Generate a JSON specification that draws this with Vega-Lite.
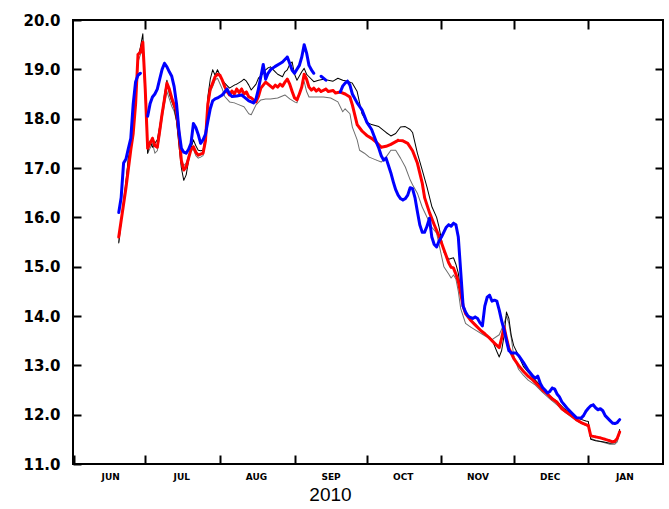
{
  "$schema": "https://vega.github.io/schema/vega-lite/v6.json",
  "width": 590,
  "height": 444,
  "autosize": "none",
  "padding": {"left": 73, "top": 20, "right": 6, "bottom": 45},
  "background": "white",
  "config": {"view": {"stroke": "black", "strokeWidth": 2}},
  "datasets": {
    "all": [
      {"s":"gray","d":"2010-06-20","v":15.5},{"s":"gray","d":"2010-06-21","v":15.95},{"s":"gray","d":"2010-06-22","v":16.35},{"s":"gray","d":"2010-06-23","v":16.75},{"s":"gray","d":"2010-06-24","v":17.2},{"s":"gray","d":"2010-06-25","v":17.35},{"s":"gray","d":"2010-06-26","v":17.8},{"s":"gray","d":"2010-06-27","v":18.3},{"s":"gray","d":"2010-06-28","v":19.15},{"s":"gray","d":"2010-06-29","v":19.3},{"s":"gray","d":"2010-06-30","v":19.4},
      {"s":"gray","d":"2010-07-01","v":18.4},{"s":"gray","d":"2010-07-02","v":17.3},{"s":"gray","d":"2010-07-03","v":17.4},{"s":"gray","d":"2010-07-04","v":17.5},{"s":"gray","d":"2010-07-05","v":17.3},{"s":"gray","d":"2010-07-06","v":17.35},{"s":"gray","d":"2010-07-07","v":17.65},{"s":"gray","d":"2010-07-08","v":18.0},{"s":"gray","d":"2010-07-09","v":18.3},{"s":"gray","d":"2010-07-10","v":18.55},{"s":"gray","d":"2010-07-11","v":18.4},{"s":"gray","d":"2010-07-12","v":18.25},{"s":"gray","d":"2010-07-13","v":18.15},{"s":"gray","d":"2010-07-14","v":17.95},{"s":"gray","d":"2010-07-15","v":17.55},{"s":"gray","d":"2010-07-16","v":17.15},{"s":"gray","d":"2010-07-17","v":17.05},{"s":"gray","d":"2010-07-18","v":17.1},{"s":"gray","d":"2010-07-19","v":17.25},{"s":"gray","d":"2010-07-20","v":17.35},{"s":"gray","d":"2010-07-21","v":17.38},{"s":"gray","d":"2010-07-22","v":17.25},{"s":"gray","d":"2010-07-23","v":17.2},{"s":"gray","d":"2010-07-24","v":17.22},{"s":"gray","d":"2010-07-25","v":17.25},{"s":"gray","d":"2010-07-26","v":17.5},{"s":"gray","d":"2010-07-27","v":18.2},{"s":"gray","d":"2010-07-28","v":18.55},{"s":"gray","d":"2010-07-29","v":18.65},{"s":"gray","d":"2010-07-30","v":18.78},{"s":"gray","d":"2010-07-31","v":18.82},
      {"s":"gray","d":"2010-08-02","v":18.6},{"s":"gray","d":"2010-08-03","v":18.45},{"s":"gray","d":"2010-08-05","v":18.34},{"s":"gray","d":"2010-08-07","v":18.32},{"s":"gray","d":"2010-08-09","v":18.28},{"s":"gray","d":"2010-08-11","v":18.24},{"s":"gray","d":"2010-08-13","v":18.1},{"s":"gray","d":"2010-08-14","v":18.08},{"s":"gray","d":"2010-08-16","v":18.28},{"s":"gray","d":"2010-08-18","v":18.38},{"s":"gray","d":"2010-08-20","v":18.4},{"s":"gray","d":"2010-08-22","v":18.4},{"s":"gray","d":"2010-08-25","v":18.42},{"s":"gray","d":"2010-08-28","v":18.48},{"s":"gray","d":"2010-08-30","v":18.4},
      {"s":"gray","d":"2010-09-01","v":18.34},{"s":"gray","d":"2010-09-02","v":18.32},{"s":"gray","d":"2010-09-04","v":18.68},{"s":"gray","d":"2010-09-05","v":18.75},{"s":"gray","d":"2010-09-06","v":18.55},{"s":"gray","d":"2010-09-07","v":18.44},{"s":"gray","d":"2010-09-10","v":18.44},{"s":"gray","d":"2010-09-13","v":18.44},{"s":"gray","d":"2010-09-16","v":18.42},{"s":"gray","d":"2010-09-19","v":18.34},{"s":"gray","d":"2010-09-21","v":18.14},{"s":"gray","d":"2010-09-22","v":18.2},{"s":"gray","d":"2010-09-24","v":18.1},{"s":"gray","d":"2010-09-25","v":17.83},{"s":"gray","d":"2010-09-27","v":17.57},{"s":"gray","d":"2010-09-28","v":17.36},{"s":"gray","d":"2010-09-30","v":17.3},
      {"s":"gray","d":"2010-10-02","v":17.22},{"s":"gray","d":"2010-10-05","v":17.16},{"s":"gray","d":"2010-10-07","v":17.12},{"s":"gray","d":"2010-10-09","v":17.22},{"s":"gray","d":"2010-10-11","v":17.36},{"s":"gray","d":"2010-10-13","v":17.36},{"s":"gray","d":"2010-10-15","v":17.2},{"s":"gray","d":"2010-10-17","v":17.02},{"s":"gray","d":"2010-10-19","v":16.76},{"s":"gray","d":"2010-10-20","v":16.66},{"s":"gray","d":"2010-10-22","v":16.49},{"s":"gray","d":"2010-10-24","v":16.21},{"s":"gray","d":"2010-10-26","v":16.0},{"s":"gray","d":"2010-10-28","v":15.8},{"s":"gray","d":"2010-10-30","v":15.68},{"s":"gray","d":"2010-10-31","v":15.45},
      {"s":"gray","d":"2010-11-02","v":15.0},{"s":"gray","d":"2010-11-04","v":14.85},{"s":"gray","d":"2010-11-05","v":14.77},{"s":"gray","d":"2010-11-06","v":14.83},{"s":"gray","d":"2010-11-07","v":14.75},{"s":"gray","d":"2010-11-08","v":14.5},{"s":"gray","d":"2010-11-09","v":14.15},{"s":"gray","d":"2010-11-10","v":14.0},{"s":"gray","d":"2010-11-11","v":13.85},{"s":"gray","d":"2010-11-13","v":13.78},{"s":"gray","d":"2010-11-15","v":13.72},{"s":"gray","d":"2010-11-19","v":13.6},{"s":"gray","d":"2010-11-22","v":13.52},{"s":"gray","d":"2010-11-25","v":13.62},{"s":"gray","d":"2010-11-27","v":13.85},{"s":"gray","d":"2010-11-28","v":14.0},{"s":"gray","d":"2010-11-29","v":13.85},{"s":"gray","d":"2010-11-30","v":13.55},
      {"s":"gray","d":"2010-12-01","v":13.2},{"s":"gray","d":"2010-12-03","v":12.92},{"s":"gray","d":"2010-12-05","v":12.8},{"s":"gray","d":"2010-12-07","v":12.7},{"s":"gray","d":"2010-12-10","v":12.6},{"s":"gray","d":"2010-12-13","v":12.45},{"s":"gray","d":"2010-12-16","v":12.32},{"s":"gray","d":"2010-12-19","v":12.2},{"s":"gray","d":"2010-12-22","v":12.06},{"s":"gray","d":"2010-12-25","v":11.95},{"s":"gray","d":"2010-12-28","v":11.85},{"s":"gray","d":"2010-12-31","v":11.78},
      {"s":"gray","d":"2011-01-01","v":11.76},{"s":"gray","d":"2011-01-02","v":11.52},{"s":"gray","d":"2011-01-04","v":11.48},{"s":"gray","d":"2011-01-07","v":11.44},{"s":"gray","d":"2011-01-10","v":11.4},{"s":"gray","d":"2011-01-12","v":11.4},{"s":"gray","d":"2011-01-13","v":11.45},{"s":"gray","d":"2011-01-14","v":11.62},

      {"s":"black","d":"2010-06-20","v":15.48},{"s":"black","d":"2010-06-21","v":15.9},{"s":"black","d":"2010-06-22","v":16.3},{"s":"black","d":"2010-06-23","v":16.7},{"s":"black","d":"2010-06-24","v":17.2},{"s":"black","d":"2010-06-25","v":17.45},{"s":"black","d":"2010-06-26","v":17.9},{"s":"black","d":"2010-06-27","v":18.4},{"s":"black","d":"2010-06-28","v":19.25},{"s":"black","d":"2010-06-29","v":19.45},{"s":"black","d":"2010-06-30","v":19.72},
      {"s":"black","d":"2010-07-01","v":18.5},{"s":"black","d":"2010-07-02","v":17.3},{"s":"black","d":"2010-07-03","v":17.55},{"s":"black","d":"2010-07-04","v":17.42},{"s":"black","d":"2010-07-05","v":17.5},{"s":"black","d":"2010-07-06","v":17.57},{"s":"black","d":"2010-07-07","v":17.85},{"s":"black","d":"2010-07-08","v":18.15},{"s":"black","d":"2010-07-09","v":18.5},{"s":"black","d":"2010-07-10","v":18.78},{"s":"black","d":"2010-07-11","v":18.5},{"s":"black","d":"2010-07-12","v":18.35},{"s":"black","d":"2010-07-13","v":18.22},{"s":"black","d":"2010-07-14","v":17.95},{"s":"black","d":"2010-07-15","v":17.45},{"s":"black","d":"2010-07-16","v":17.0},{"s":"black","d":"2010-07-17","v":16.75},{"s":"black","d":"2010-07-18","v":16.86},{"s":"black","d":"2010-07-19","v":17.15},{"s":"black","d":"2010-07-20","v":17.4},{"s":"black","d":"2010-07-21","v":17.57},{"s":"black","d":"2010-07-22","v":17.45},{"s":"black","d":"2010-07-23","v":17.36},{"s":"black","d":"2010-07-24","v":17.35},{"s":"black","d":"2010-07-25","v":17.36},{"s":"black","d":"2010-07-26","v":17.65},{"s":"black","d":"2010-07-27","v":18.45},{"s":"black","d":"2010-07-28","v":18.8},{"s":"black","d":"2010-07-29","v":18.99},{"s":"black","d":"2010-07-30","v":18.88},{"s":"black","d":"2010-07-31","v":18.99},
      {"s":"black","d":"2010-08-02","v":18.78},{"s":"black","d":"2010-08-03","v":18.72},{"s":"black","d":"2010-08-05","v":18.62},{"s":"black","d":"2010-08-07","v":18.68},{"s":"black","d":"2010-08-08","v":18.7},{"s":"black","d":"2010-08-10","v":18.76},{"s":"black","d":"2010-08-11","v":18.8},{"s":"black","d":"2010-08-12","v":18.76},{"s":"black","d":"2010-08-13","v":18.68},{"s":"black","d":"2010-08-14","v":18.58},{"s":"black","d":"2010-08-16","v":18.7},{"s":"black","d":"2010-08-17","v":18.82},{"s":"black","d":"2010-08-19","v":18.92},{"s":"black","d":"2010-08-20","v":18.99},{"s":"black","d":"2010-08-21","v":19.03},{"s":"black","d":"2010-08-22","v":19.05},{"s":"black","d":"2010-08-24","v":18.95},{"s":"black","d":"2010-08-25","v":18.9},{"s":"black","d":"2010-08-27","v":18.85},{"s":"black","d":"2010-08-28","v":18.95},{"s":"black","d":"2010-08-29","v":18.99},{"s":"black","d":"2010-08-30","v":19.1},{"s":"black","d":"2010-08-31","v":19.15},
      {"s":"black","d":"2010-09-01","v":18.9},{"s":"black","d":"2010-09-02","v":18.78},{"s":"black","d":"2010-09-04","v":18.95},{"s":"black","d":"2010-09-05","v":19.02},{"s":"black","d":"2010-09-06","v":18.9},{"s":"black","d":"2010-09-07","v":18.85},{"s":"black","d":"2010-09-09","v":18.75},{"s":"black","d":"2010-09-11","v":18.78},{"s":"black","d":"2010-09-13","v":18.8},{"s":"black","d":"2010-09-15","v":18.78},{"s":"black","d":"2010-09-17","v":18.76},{"s":"black","d":"2010-09-19","v":18.82},{"s":"black","d":"2010-09-21","v":18.78},{"s":"black","d":"2010-09-23","v":18.76},{"s":"black","d":"2010-09-25","v":18.72},{"s":"black","d":"2010-09-27","v":18.55},{"s":"black","d":"2010-09-29","v":18.1},
      {"s":"black","d":"2010-10-01","v":17.93},{"s":"black","d":"2010-10-03","v":17.88},{"s":"black","d":"2010-10-06","v":17.84},{"s":"black","d":"2010-10-09","v":17.72},{"s":"black","d":"2010-10-11","v":17.65},{"s":"black","d":"2010-10-13","v":17.7},{"s":"black","d":"2010-10-15","v":17.83},{"s":"black","d":"2010-10-17","v":17.84},{"s":"black","d":"2010-10-19","v":17.78},{"s":"black","d":"2010-10-20","v":17.72},{"s":"black","d":"2010-10-22","v":17.3},{"s":"black","d":"2010-10-24","v":16.96},{"s":"black","d":"2010-10-26","v":16.61},{"s":"black","d":"2010-10-28","v":16.22},{"s":"black","d":"2010-10-30","v":16.0},{"s":"black","d":"2010-10-31","v":15.8},
      {"s":"black","d":"2010-11-02","v":15.3},{"s":"black","d":"2010-11-04","v":15.15},{"s":"black","d":"2010-11-06","v":15.18},{"s":"black","d":"2010-11-07","v":15.05},{"s":"black","d":"2010-11-08","v":14.87},{"s":"black","d":"2010-11-09","v":14.5},{"s":"black","d":"2010-11-10","v":14.2},{"s":"black","d":"2010-11-11","v":14.06},{"s":"black","d":"2010-11-14","v":13.88},{"s":"black","d":"2010-11-18","v":13.68},{"s":"black","d":"2010-11-22","v":13.52},{"s":"black","d":"2010-11-24","v":13.28},{"s":"black","d":"2010-11-25","v":13.17},{"s":"black","d":"2010-11-26","v":13.3},{"s":"black","d":"2010-11-27","v":13.6},{"s":"black","d":"2010-11-28","v":14.08},{"s":"black","d":"2010-11-29","v":13.95},{"s":"black","d":"2010-11-30","v":13.6},
      {"s":"black","d":"2010-12-01","v":13.4},{"s":"black","d":"2010-12-03","v":13.2},{"s":"black","d":"2010-12-05","v":12.98},{"s":"black","d":"2010-12-07","v":12.86},{"s":"black","d":"2010-12-10","v":12.7},{"s":"black","d":"2010-12-13","v":12.55},{"s":"black","d":"2010-12-16","v":12.38},{"s":"black","d":"2010-12-19","v":12.27},{"s":"black","d":"2010-12-22","v":12.12},{"s":"black","d":"2010-12-25","v":12.02},{"s":"black","d":"2010-12-28","v":11.92},{"s":"black","d":"2010-12-31","v":11.87},
      {"s":"black","d":"2011-01-01","v":11.86},{"s":"black","d":"2011-01-02","v":11.5},{"s":"black","d":"2011-01-04","v":11.47},{"s":"black","d":"2011-01-07","v":11.45},{"s":"black","d":"2011-01-10","v":11.42},{"s":"black","d":"2011-01-12","v":11.43},{"s":"black","d":"2011-01-13","v":11.5},{"s":"black","d":"2011-01-14","v":11.7},

      {"s":"red","d":"2010-06-20","v":15.6},{"s":"red","d":"2010-06-23","v":16.6},{"s":"red","d":"2010-06-25","v":17.37},{"s":"red","d":"2010-06-26","v":17.7},{"s":"red","d":"2010-06-27","v":18.3},{"s":"red","d":"2010-06-28","v":19.3},{"s":"red","d":"2010-06-29","v":19.35},{"s":"red","d":"2010-06-30","v":19.55},
      {"s":"red","d":"2010-07-01","v":18.6},{"s":"red","d":"2010-07-02","v":17.4},{"s":"red","d":"2010-07-03","v":17.5},{"s":"red","d":"2010-07-04","v":17.6},{"s":"red","d":"2010-07-05","v":17.45},{"s":"red","d":"2010-07-06","v":17.42},{"s":"red","d":"2010-07-07","v":17.75},{"s":"red","d":"2010-07-08","v":18.1},{"s":"red","d":"2010-07-09","v":18.4},{"s":"red","d":"2010-07-10","v":18.72},{"s":"red","d":"2010-07-11","v":18.6},{"s":"red","d":"2010-07-12","v":18.42},{"s":"red","d":"2010-07-13","v":18.28},{"s":"red","d":"2010-07-14","v":18.15},{"s":"red","d":"2010-07-15","v":17.7},{"s":"red","d":"2010-07-16","v":17.15},{"s":"red","d":"2010-07-17","v":16.96},{"s":"red","d":"2010-07-18","v":17.02},{"s":"red","d":"2010-07-19","v":17.2},{"s":"red","d":"2010-07-20","v":17.38},{"s":"red","d":"2010-07-21","v":17.43},{"s":"red","d":"2010-07-22","v":17.32},{"s":"red","d":"2010-07-23","v":17.26},{"s":"red","d":"2010-07-24","v":17.28},{"s":"red","d":"2010-07-25","v":17.3},{"s":"red","d":"2010-07-26","v":17.55},{"s":"red","d":"2010-07-27","v":18.3},{"s":"red","d":"2010-07-28","v":18.6},{"s":"red","d":"2010-07-29","v":18.72},{"s":"red","d":"2010-07-30","v":18.85},{"s":"red","d":"2010-07-31","v":18.9},
      {"s":"red","d":"2010-08-01","v":18.88},{"s":"red","d":"2010-08-02","v":18.78},{"s":"red","d":"2010-08-03","v":18.65},{"s":"red","d":"2010-08-04","v":18.55},{"s":"red","d":"2010-08-05","v":18.48},{"s":"red","d":"2010-08-06","v":18.56},{"s":"red","d":"2010-08-07","v":18.5},{"s":"red","d":"2010-08-08","v":18.6},{"s":"red","d":"2010-08-09","v":18.53},{"s":"red","d":"2010-08-10","v":18.6},{"s":"red","d":"2010-08-11","v":18.5},{"s":"red","d":"2010-08-12","v":18.54},{"s":"red","d":"2010-08-13","v":18.44},{"s":"red","d":"2010-08-14","v":18.42},{"s":"red","d":"2010-08-15","v":18.38},{"s":"red","d":"2010-08-16","v":18.34},{"s":"red","d":"2010-08-17","v":18.45},{"s":"red","d":"2010-08-18","v":18.62},{"s":"red","d":"2010-08-19","v":18.68},{"s":"red","d":"2010-08-20","v":18.74},{"s":"red","d":"2010-08-21","v":18.7},{"s":"red","d":"2010-08-22","v":18.66},{"s":"red","d":"2010-08-23","v":18.62},{"s":"red","d":"2010-08-24","v":18.68},{"s":"red","d":"2010-08-25","v":18.64},{"s":"red","d":"2010-08-26","v":18.7},{"s":"red","d":"2010-08-27","v":18.66},{"s":"red","d":"2010-08-28","v":18.74},{"s":"red","d":"2010-08-29","v":18.8},{"s":"red","d":"2010-08-30","v":18.7},{"s":"red","d":"2010-08-31","v":18.55},
      {"s":"red","d":"2010-09-01","v":18.42},{"s":"red","d":"2010-09-02","v":18.38},{"s":"red","d":"2010-09-03","v":18.5},{"s":"red","d":"2010-09-04","v":18.64},{"s":"red","d":"2010-09-05","v":18.9},{"s":"red","d":"2010-09-06","v":18.8},{"s":"red","d":"2010-09-07","v":18.64},{"s":"red","d":"2010-09-08","v":18.58},{"s":"red","d":"2010-09-09","v":18.62},{"s":"red","d":"2010-09-10","v":18.56},{"s":"red","d":"2010-09-11","v":18.6},{"s":"red","d":"2010-09-12","v":18.55},{"s":"red","d":"2010-09-14","v":18.6},{"s":"red","d":"2010-09-15","v":18.55},{"s":"red","d":"2010-09-17","v":18.57},{"s":"red","d":"2010-09-18","v":18.52},{"s":"red","d":"2010-09-20","v":18.54},{"s":"red","d":"2010-09-22","v":18.5},{"s":"red","d":"2010-09-23","v":18.47},{"s":"red","d":"2010-09-24","v":18.44},{"s":"red","d":"2010-09-25","v":18.28},{"s":"red","d":"2010-09-27","v":17.88},{"s":"red","d":"2010-09-29","v":17.75},
      {"s":"red","d":"2010-10-01","v":17.66},{"s":"red","d":"2010-10-03","v":17.6},{"s":"red","d":"2010-10-05","v":17.52},{"s":"red","d":"2010-10-07","v":17.42},{"s":"red","d":"2010-10-09","v":17.44},{"s":"red","d":"2010-10-11","v":17.48},{"s":"red","d":"2010-10-14","v":17.56},{"s":"red","d":"2010-10-16","v":17.55},{"s":"red","d":"2010-10-18","v":17.5},{"s":"red","d":"2010-10-20","v":17.35},{"s":"red","d":"2010-10-22","v":17.1},{"s":"red","d":"2010-10-24","v":16.7},{"s":"red","d":"2010-10-25","v":16.4},{"s":"red","d":"2010-10-27","v":16.1},{"s":"red","d":"2010-10-29","v":15.85},{"s":"red","d":"2010-10-31","v":15.62},
      {"s":"red","d":"2010-11-02","v":15.35},{"s":"red","d":"2010-11-04","v":15.08},{"s":"red","d":"2010-11-05","v":14.99},{"s":"red","d":"2010-11-06","v":14.97},{"s":"red","d":"2010-11-07","v":14.85},{"s":"red","d":"2010-11-08","v":14.7},{"s":"red","d":"2010-11-09","v":14.45},{"s":"red","d":"2010-11-10","v":14.2},{"s":"red","d":"2010-11-11","v":14.05},{"s":"red","d":"2010-11-13","v":13.92},{"s":"red","d":"2010-11-15","v":13.82},{"s":"red","d":"2010-11-17","v":13.72},{"s":"red","d":"2010-11-19","v":13.64},{"s":"red","d":"2010-11-21","v":13.55},{"s":"red","d":"2010-11-23","v":13.45},{"s":"red","d":"2010-11-25","v":13.36},{"s":"red","d":"2010-11-26","v":13.55},{"s":"red","d":"2010-11-27","v":13.78},{"s":"red","d":"2010-11-28","v":13.55},{"s":"red","d":"2010-11-29","v":13.35},
      {"s":"red","d":"2010-12-01","v":13.14},{"s":"red","d":"2010-12-03","v":13.0},{"s":"red","d":"2010-12-05","v":12.88},{"s":"red","d":"2010-12-07","v":12.78},{"s":"red","d":"2010-12-09","v":12.7},{"s":"red","d":"2010-12-11","v":12.6},{"s":"red","d":"2010-12-13","v":12.5},{"s":"red","d":"2010-12-15","v":12.42},{"s":"red","d":"2010-12-17","v":12.32},{"s":"red","d":"2010-12-19","v":12.25},{"s":"red","d":"2010-12-21","v":12.12},{"s":"red","d":"2010-12-23","v":12.05},{"s":"red","d":"2010-12-25","v":11.98},{"s":"red","d":"2010-12-27","v":11.9},{"s":"red","d":"2010-12-29","v":11.84},{"s":"red","d":"2010-12-31","v":11.8},
      {"s":"red","d":"2011-01-01","v":11.78},{"s":"red","d":"2011-01-02","v":11.57},{"s":"red","d":"2011-01-04","v":11.55},{"s":"red","d":"2011-01-06","v":11.53},{"s":"red","d":"2011-01-08","v":11.5},{"s":"red","d":"2011-01-10","v":11.47},{"s":"red","d":"2011-01-11","v":11.45},{"s":"red","d":"2011-01-12","v":11.46},{"s":"red","d":"2011-01-13","v":11.52},{"s":"red","d":"2011-01-14","v":11.65},

      {"s":"blue","g":1,"d":"2010-06-20","v":16.1},{"s":"blue","g":1,"d":"2010-06-21","v":16.4},{"s":"blue","g":1,"d":"2010-06-22","v":17.1},{"s":"blue","g":1,"d":"2010-06-23","v":17.18},{"s":"blue","g":1,"d":"2010-06-24","v":17.4},{"s":"blue","g":1,"d":"2010-06-25","v":17.6},{"s":"blue","g":1,"d":"2010-06-26","v":18.3},{"s":"blue","g":1,"d":"2010-06-27","v":18.75},{"s":"blue","g":1,"d":"2010-06-28","v":18.88},{"s":"blue","g":1,"d":"2010-06-29","v":18.92},
      {"s":"blue","g":2,"d":"2010-07-02","v":18.05},{"s":"blue","g":2,"d":"2010-07-03","v":18.3},{"s":"blue","g":2,"d":"2010-07-04","v":18.44},{"s":"blue","g":2,"d":"2010-07-05","v":18.5},{"s":"blue","g":2,"d":"2010-07-06","v":18.6},{"s":"blue","g":2,"d":"2010-07-07","v":18.8},{"s":"blue","g":2,"d":"2010-07-08","v":19.0},{"s":"blue","g":2,"d":"2010-07-09","v":19.12},{"s":"blue","g":2,"d":"2010-07-10","v":19.05},{"s":"blue","g":2,"d":"2010-07-11","v":18.95},{"s":"blue","g":2,"d":"2010-07-12","v":18.86},{"s":"blue","g":2,"d":"2010-07-13","v":18.65},{"s":"blue","g":2,"d":"2010-07-14","v":18.3},{"s":"blue","g":2,"d":"2010-07-15","v":17.75},{"s":"blue","g":2,"d":"2010-07-16","v":17.4},{"s":"blue","g":2,"d":"2010-07-17","v":17.32},{"s":"blue","g":2,"d":"2010-07-18","v":17.3},{"s":"blue","g":2,"d":"2010-07-19","v":17.38},{"s":"blue","g":2,"d":"2010-07-20","v":17.5},{"s":"blue","g":2,"d":"2010-07-21","v":17.9},{"s":"blue","g":2,"d":"2010-07-22","v":17.82},{"s":"blue","g":2,"d":"2010-07-23","v":17.68},{"s":"blue","g":2,"d":"2010-07-24","v":17.5},{"s":"blue","g":2,"d":"2010-07-25","v":17.57},{"s":"blue","g":2,"d":"2010-07-26","v":17.68},{"s":"blue","g":2,"d":"2010-07-27","v":17.95},{"s":"blue","g":2,"d":"2010-07-28","v":18.2},{"s":"blue","g":2,"d":"2010-07-29","v":18.36},{"s":"blue","g":2,"d":"2010-07-30","v":18.4},{"s":"blue","g":2,"d":"2010-07-31","v":18.42},
      {"s":"blue","g":2,"d":"2010-08-02","v":18.48},{"s":"blue","g":2,"d":"2010-08-04","v":18.6},{"s":"blue","g":2,"d":"2010-08-05","v":18.5},{"s":"blue","g":2,"d":"2010-08-06","v":18.45},{"s":"blue","g":2,"d":"2010-08-08","v":18.46},{"s":"blue","g":2,"d":"2010-08-10","v":18.48},{"s":"blue","g":2,"d":"2010-08-11","v":18.44},{"s":"blue","g":2,"d":"2010-08-13","v":18.36},{"s":"blue","g":2,"d":"2010-08-15","v":18.32},{"s":"blue","g":2,"d":"2010-08-16","v":18.4},{"s":"blue","g":2,"d":"2010-08-17","v":18.6},{"s":"blue","g":2,"d":"2010-08-18","v":18.85},{"s":"blue","g":2,"d":"2010-08-19","v":19.1},{"s":"blue","g":2,"d":"2010-08-20","v":18.8},{"s":"blue","g":2,"d":"2010-08-21","v":18.92},{"s":"blue","g":2,"d":"2010-08-22","v":18.99},{"s":"blue","g":2,"d":"2010-08-24","v":19.06},{"s":"blue","g":2,"d":"2010-08-26","v":19.12},{"s":"blue","g":2,"d":"2010-08-27","v":19.15},{"s":"blue","g":2,"d":"2010-08-29","v":19.25},{"s":"blue","g":2,"d":"2010-08-30","v":19.12},{"s":"blue","g":2,"d":"2010-08-31","v":18.98},
      {"s":"blue","g":2,"d":"2010-09-01","v":18.92},{"s":"blue","g":2,"d":"2010-09-02","v":19.0},{"s":"blue","g":2,"d":"2010-09-03","v":19.08},{"s":"blue","g":2,"d":"2010-09-04","v":19.25},{"s":"blue","g":2,"d":"2010-09-05","v":19.5},{"s":"blue","g":2,"d":"2010-09-06","v":19.33},{"s":"blue","g":2,"d":"2010-09-07","v":19.08},{"s":"blue","g":2,"d":"2010-09-08","v":18.99},{"s":"blue","g":2,"d":"2010-09-09","v":18.92},
      {"s":"blue","g":3,"d":"2010-09-12","v":18.86},{"s":"blue","g":3,"d":"2010-09-13","v":18.82},{"s":"blue","g":3,"d":"2010-09-14","v":18.78},
      {"s":"blue","g":4,"d":"2010-09-20","v":18.54},{"s":"blue","g":4,"d":"2010-09-21","v":18.66},{"s":"blue","g":4,"d":"2010-09-22","v":18.72},{"s":"blue","g":4,"d":"2010-09-23","v":18.76},{"s":"blue","g":4,"d":"2010-09-24","v":18.68},{"s":"blue","g":4,"d":"2010-09-25","v":18.5},{"s":"blue","g":4,"d":"2010-09-27","v":18.32},{"s":"blue","g":4,"d":"2010-09-29","v":18.18},
      {"s":"blue","g":4,"d":"2010-10-01","v":17.93},{"s":"blue","g":4,"d":"2010-10-03","v":17.78},{"s":"blue","g":4,"d":"2010-10-05","v":17.52},{"s":"blue","g":4,"d":"2010-10-06","v":17.4},{"s":"blue","g":4,"d":"2010-10-07","v":17.25},{"s":"blue","g":4,"d":"2010-10-08","v":17.16},{"s":"blue","g":4,"d":"2010-10-09","v":17.2},{"s":"blue","g":4,"d":"2010-10-10","v":17.05},{"s":"blue","g":4,"d":"2010-10-11","v":16.9},{"s":"blue","g":4,"d":"2010-10-12","v":16.72},{"s":"blue","g":4,"d":"2010-10-13","v":16.56},{"s":"blue","g":4,"d":"2010-10-14","v":16.45},{"s":"blue","g":4,"d":"2010-10-15","v":16.38},{"s":"blue","g":4,"d":"2010-10-16","v":16.35},{"s":"blue","g":4,"d":"2010-10-17","v":16.38},{"s":"blue","g":4,"d":"2010-10-18","v":16.45},{"s":"blue","g":4,"d":"2010-10-19","v":16.6},{"s":"blue","g":4,"d":"2010-10-20","v":16.58},{"s":"blue","g":4,"d":"2010-10-21","v":16.4},{"s":"blue","g":4,"d":"2010-10-22","v":16.12},{"s":"blue","g":4,"d":"2010-10-23","v":15.85},{"s":"blue","g":4,"d":"2010-10-24","v":15.7},{"s":"blue","g":4,"d":"2010-10-25","v":15.7},{"s":"blue","g":4,"d":"2010-10-26","v":15.82},{"s":"blue","g":4,"d":"2010-10-27","v":15.98},{"s":"blue","g":4,"d":"2010-10-28","v":15.6},{"s":"blue","g":4,"d":"2010-10-29","v":15.45},{"s":"blue","g":4,"d":"2010-10-30","v":15.4},{"s":"blue","g":4,"d":"2010-10-31","v":15.52},
      {"s":"blue","g":4,"d":"2010-11-01","v":15.6},{"s":"blue","g":4,"d":"2010-11-02","v":15.7},{"s":"blue","g":4,"d":"2010-11-03","v":15.8},{"s":"blue","g":4,"d":"2010-11-04","v":15.85},{"s":"blue","g":4,"d":"2010-11-05","v":15.82},{"s":"blue","g":4,"d":"2010-11-06","v":15.88},{"s":"blue","g":4,"d":"2010-11-07","v":15.85},{"s":"blue","g":4,"d":"2010-11-08","v":15.6},{"s":"blue","g":4,"d":"2010-11-09","v":14.9},{"s":"blue","g":4,"d":"2010-11-10","v":14.2},{"s":"blue","g":4,"d":"2010-11-11","v":14.08},{"s":"blue","g":4,"d":"2010-11-12","v":14.0},{"s":"blue","g":4,"d":"2010-11-13","v":13.97},{"s":"blue","g":4,"d":"2010-11-14","v":13.95},{"s":"blue","g":4,"d":"2010-11-15","v":13.98},{"s":"blue","g":4,"d":"2010-11-16","v":13.95},{"s":"blue","g":4,"d":"2010-11-17","v":13.86},{"s":"blue","g":4,"d":"2010-11-18","v":13.8},{"s":"blue","g":4,"d":"2010-11-19","v":14.2},{"s":"blue","g":4,"d":"2010-11-20","v":14.38},{"s":"blue","g":4,"d":"2010-11-21","v":14.42},{"s":"blue","g":4,"d":"2010-11-22","v":14.3},{"s":"blue","g":4,"d":"2010-11-23","v":14.32},{"s":"blue","g":4,"d":"2010-11-24","v":14.3},{"s":"blue","g":4,"d":"2010-11-25","v":14.12},{"s":"blue","g":4,"d":"2010-11-26","v":13.9},{"s":"blue","g":4,"d":"2010-11-27","v":13.72},{"s":"blue","g":4,"d":"2010-11-28","v":13.5},{"s":"blue","g":4,"d":"2010-11-29","v":13.3},{"s":"blue","g":4,"d":"2010-11-30","v":13.25},
      {"s":"blue","g":4,"d":"2010-12-02","v":13.25},{"s":"blue","g":4,"d":"2010-12-03","v":13.2},{"s":"blue","g":4,"d":"2010-12-05","v":13.06},{"s":"blue","g":4,"d":"2010-12-07","v":12.9},{"s":"blue","g":4,"d":"2010-12-09","v":12.78},{"s":"blue","g":4,"d":"2010-12-10","v":12.74},{"s":"blue","g":4,"d":"2010-12-11","v":12.78},{"s":"blue","g":4,"d":"2010-12-12","v":12.64},{"s":"blue","g":4,"d":"2010-12-13","v":12.55},{"s":"blue","g":4,"d":"2010-12-14","v":12.5},{"s":"blue","g":4,"d":"2010-12-15","v":12.44},{"s":"blue","g":4,"d":"2010-12-16","v":12.47},{"s":"blue","g":4,"d":"2010-12-17","v":12.54},{"s":"blue","g":4,"d":"2010-12-18","v":12.52},{"s":"blue","g":4,"d":"2010-12-19","v":12.42},{"s":"blue","g":4,"d":"2010-12-20","v":12.36},{"s":"blue","g":4,"d":"2010-12-21","v":12.26},{"s":"blue","g":4,"d":"2010-12-22","v":12.2},{"s":"blue","g":4,"d":"2010-12-23","v":12.14},{"s":"blue","g":4,"d":"2010-12-25","v":12.04},{"s":"blue","g":4,"d":"2010-12-27","v":11.94},{"s":"blue","g":4,"d":"2010-12-29","v":11.93},{"s":"blue","g":4,"d":"2010-12-30","v":11.98},{"s":"blue","g":4,"d":"2010-12-31","v":12.07},
      {"s":"blue","g":4,"d":"2011-01-01","v":12.13},{"s":"blue","g":4,"d":"2011-01-02","v":12.18},{"s":"blue","g":4,"d":"2011-01-03","v":12.2},{"s":"blue","g":4,"d":"2011-01-04","v":12.14},{"s":"blue","g":4,"d":"2011-01-05","v":12.1},{"s":"blue","g":4,"d":"2011-01-06","v":12.12},{"s":"blue","g":4,"d":"2011-01-07","v":12.08},{"s":"blue","g":4,"d":"2011-01-08","v":11.98},{"s":"blue","g":4,"d":"2011-01-09","v":11.93},{"s":"blue","g":4,"d":"2011-01-10","v":11.88},{"s":"blue","g":4,"d":"2011-01-11","v":11.83},{"s":"blue","g":4,"d":"2011-01-12","v":11.82},{"s":"blue","g":4,"d":"2011-01-13","v":11.84},{"s":"blue","g":4,"d":"2011-01-14","v":11.9}
    ]
  },
  "data": {"name": "all"},
  "resolve": {"axis": {"x": "independent", "y": "independent"}},
  "layer": [
    {
      "mark": {"type": "trail", "clip": true},
      "encoding": {
        "x": {"field": "d", "type": "temporal",
          "scale": {"type": "utc", "domain": [{"year": 2010, "month": 6, "date": 1, "utc": true}, {"year": 2011, "month": 2, "date": 1, "utc": true}]},
          "axis": {"orient": "bottom", "offset": -9, "ticks": true,
            "values": [{"year": 2010, "month": 6, "date": 1, "hours": 12, "utc": true}, {"year": 2010, "month": 7, "date": 1, "utc": true}, {"year": 2010, "month": 8, "date": 1, "utc": true}, {"year": 2010, "month": 9, "date": 1, "utc": true}, {"year": 2010, "month": 10, "date": 1, "utc": true}, {"year": 2010, "month": 11, "date": 1, "utc": true}, {"year": 2010, "month": 12, "date": 1, "utc": true}, {"year": 2011, "month": 1, "date": 1, "utc": true}],
            "labelExpr": "upper(utcFormat(datum.value, '%b'))",
            "labelOffset": 36,
            "tickSize": 9, "tickWidth": 2, "tickColor": "black",
            "labelPadding": 8, "labelBaseline": "top",
            "labelFont": "DejaVu Sans", "labelFontWeight": "bold", "labelFontSize": 9, "labelColor": "black",
            "domain": false, "grid": false,
            "title": "2010", "titleX": 257, "titleY": 45, "titleAlign": "center", "titleBaseline": "alphabetic",
            "titleFont": "Liberation Sans", "titleFontSize": 19, "titleFontWeight": "normal", "titleColor": "black"}},
        "y": {"field": "v", "type": "quantitative",
          "scale": {"domain": [11, 20], "nice": false, "zero": false},
          "axis": {"orient": "left", "offset": -8, "ticks": true, "values": [11, 12, 13, 14, 15, 16, 17, 18, 19, 20], "format": ".1f",
            "tickSize": 8, "tickWidth": 2, "tickColor": "black", "labelPadding": 13,
            "labelFont": "DejaVu Sans", "labelFontWeight": "bold", "labelFontSize": 15, "labelColor": "black",
            "domain": false, "grid": false, "title": null}},
        "color": {"field": "s", "type": "nominal", "legend": null,
          "scale": {"domain": ["gray", "black", "red", "blue"], "range": ["#6e6e6e", "#000000", "#ff0000", "#0000ff"]}},
        "size": {"condition": {"test": "datum.s == 'red' || datum.s == 'blue'", "value": 3}, "value": 1},
        "detail": {"field": "g", "type": "nominal"}
      }
    },
    {
      "transform": [{"filter": "datum.s == 'black'"}],
      "mark": {"type": "line", "strokeOpacity": 0, "clip": true},
      "encoding": {
        "x": {"field": "d", "type": "temporal",
          "axis": {"orient": "top", "offset": -9, "ticks": true,
            "values": [{"year": 2010, "month": 7, "date": 1, "utc": true}, {"year": 2010, "month": 8, "date": 1, "utc": true}, {"year": 2010, "month": 9, "date": 1, "utc": true}, {"year": 2010, "month": 10, "date": 1, "utc": true}, {"year": 2010, "month": 11, "date": 1, "utc": true}, {"year": 2010, "month": 12, "date": 1, "utc": true}, {"year": 2011, "month": 1, "date": 1, "utc": true}],
            "labels": false, "tickSize": 9, "tickWidth": 2, "tickColor": "black", "domain": false, "grid": false, "title": null}},
        "y": {"field": "v", "type": "quantitative",
          "axis": {"orient": "right", "offset": -8, "ticks": true, "values": [12, 13, 14, 15, 16, 17, 18, 19],
            "labels": false, "tickSize": 8, "tickWidth": 2, "tickColor": "black", "domain": false, "grid": false, "title": null}}
      }
    }
  ]
}
